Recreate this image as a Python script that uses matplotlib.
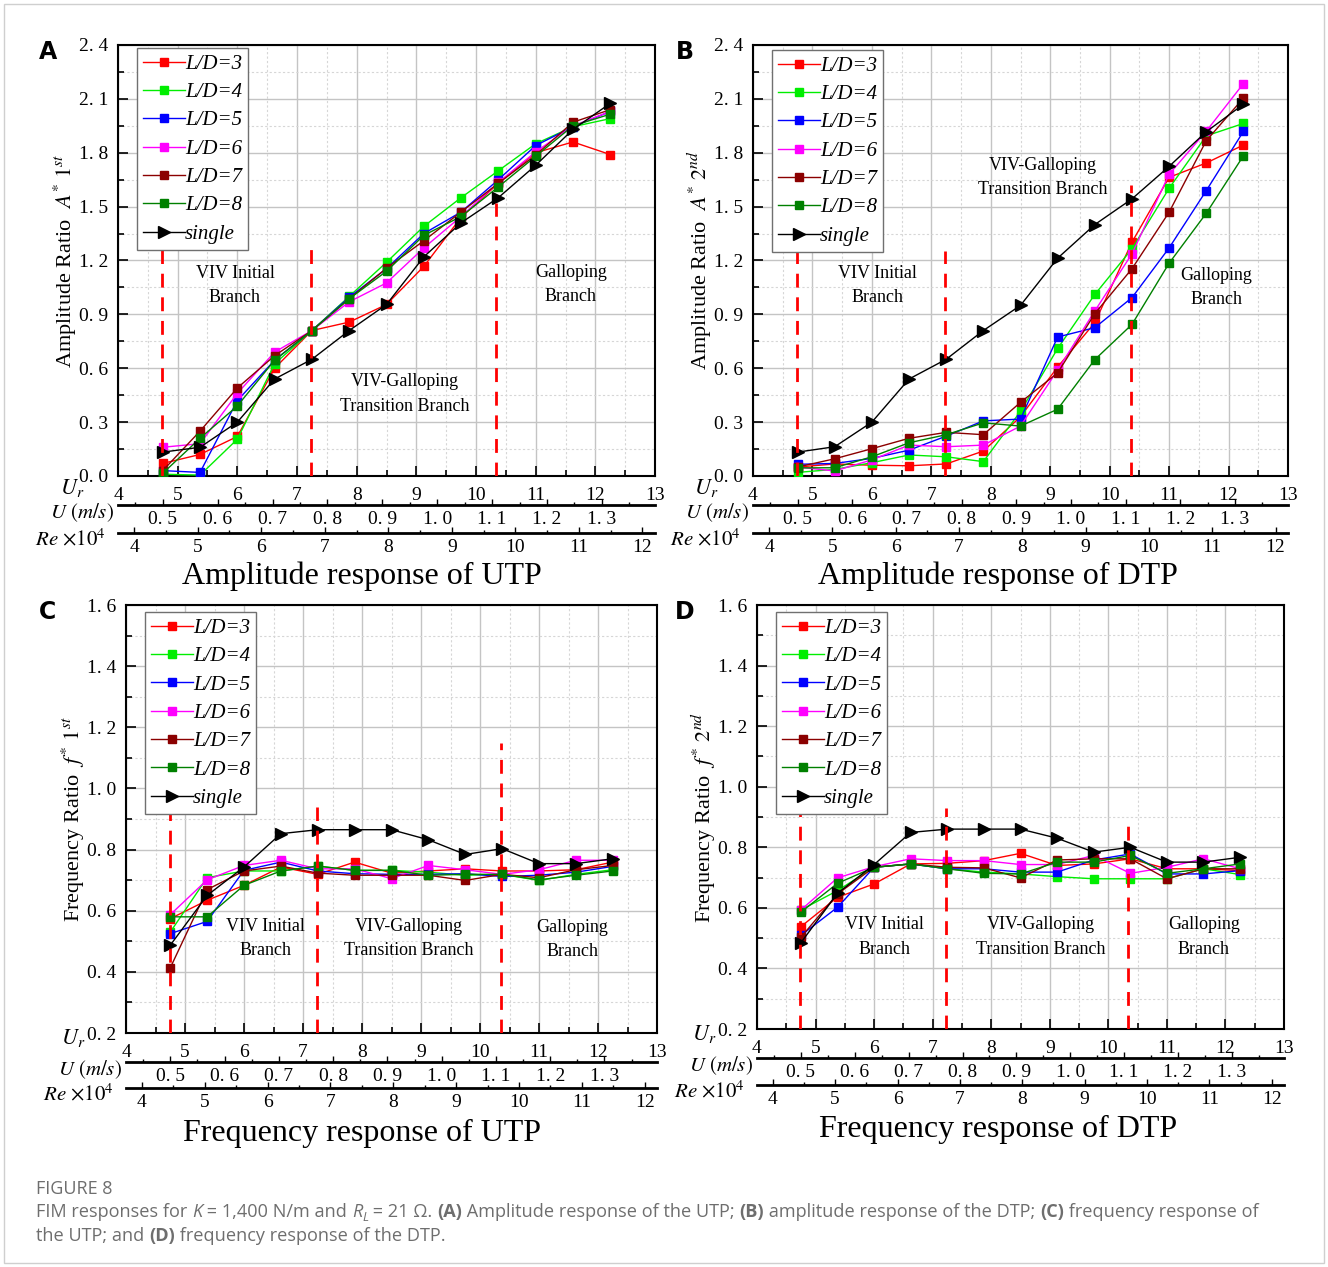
import matplotlib
matplotlib.use("Agg")
import matplotlib.pyplot as plt
from matplotlib.patches import Rectangle
from matplotlib.ticker import MultipleLocator, FixedLocator, FixedFormatter

plt.rcParams['font.family'] = 'Liberation Serif'
plt.rcParams['mathtext.fontset'] = 'stix'

# reduced velocity of the 13 test points
ur = [4.75, 5.375, 6.0, 6.625, 7.25, 7.875, 8.5, 9.125, 9.75, 10.375, 11.0, 11.625, 12.25]

# (A) amplitude, UTP
a_ld3 = [0.07, 0.12, 0.22, 0.60, 0.81, 0.857, 0.955, 1.167, 1.44, 1.63, 1.80, 1.86, 1.79]
a_ld4 = [0.01, 0.005, 0.205, 0.625, 0.81, 1.00, 1.19, 1.39, 1.55, 1.70, 1.85, 1.945, 1.99]
a_ld5 = [0.03, 0.02, 0.42, 0.645, 0.81, 0.995, 1.155, 1.35, 1.47, 1.65, 1.84, 1.945, 2.03]
a_ld6 = [0.16, 0.18, 0.46, 0.69, 0.81, 0.97, 1.075, 1.27, 1.445, 1.635, 1.805, 1.95, 2.03]
a_ld7 = [0.03, 0.25, 0.49, 0.67, 0.81, 0.987, 1.157, 1.31, 1.47, 1.63, 1.787, 1.97, 2.04]
a_ld8 = [0.015, 0.21, 0.39, 0.645, 0.81, 0.987, 1.14, 1.34, 1.445, 1.61, 1.78, 1.95, 2.015]
a_single = [0.133, 0.16, 0.30, 0.54, 0.65, 0.81, 0.955, 1.22, 1.41, 1.55, 1.73, 1.93, 2.075]

# (B) amplitude, DTP
b_ld3 = [0.05, 0.067, 0.06, 0.057, 0.067, 0.139, 0.33, 0.607, 0.854, 1.302, 1.663, 1.743, 1.843]
b_ld4 = [0.02, 0.037, 0.074, 0.117, 0.107, 0.08, 0.36, 0.71, 1.011, 1.265, 1.602, 1.894, 1.963]
b_ld5 = [0.065, 0.07, 0.098, 0.144, 0.222, 0.307, 0.317, 0.774, 0.826, 0.993, 1.27, 1.589, 1.919]
b_ld6 = [0.05, 0.028, 0.09, 0.172, 0.163, 0.172, 0.278, 0.59, 0.919, 1.237, 1.68, 1.92, 2.185]
b_ld7 = [0.05, 0.096, 0.152, 0.21, 0.243, 0.23, 0.41, 0.574, 0.904, 1.154, 1.469, 1.867, 2.104]
b_ld8 = [0.045, 0.046, 0.107, 0.185, 0.23, 0.296, 0.278, 0.372, 0.648, 0.844, 1.185, 1.463, 1.783]
b_single = [0.133, 0.163, 0.30, 0.54, 0.65, 0.81, 0.95, 1.213, 1.40, 1.543, 1.724, 1.917, 2.07]

# (C) frequency, UTP
c_ld3 = [0.574, 0.634, 0.683, 0.743, 0.719, 0.759, 0.723, 0.73, 0.737, 0.73, 0.73, 0.734, 0.759]
c_ld4 = [0.53, 0.708, 0.73, 0.73, 0.746, 0.732, 0.732, 0.726, 0.716, 0.719, 0.699, 0.719, 0.734]
c_ld5 = [0.525, 0.565, 0.732, 0.759, 0.73, 0.721, 0.719, 0.719, 0.721, 0.712, 0.716, 0.726, 0.745]
c_ld6 = [0.587, 0.701, 0.748, 0.765, 0.737, 0.737, 0.705, 0.748, 0.734, 0.719, 0.734, 0.765, 0.765]
c_ld7 = [0.413, 0.669, 0.73, 0.746, 0.723, 0.716, 0.716, 0.716, 0.699, 0.719, 0.708, 0.734, 0.748]
c_ld8 = [0.58, 0.58, 0.683, 0.73, 0.746, 0.732, 0.732, 0.716, 0.719, 0.719, 0.701, 0.716, 0.73]
c_single = [0.487, 0.65, 0.743, 0.852, 0.865, 0.865, 0.865, 0.832, 0.784, 0.803, 0.754, 0.754, 0.77]

# (D) frequency, DTP
d_ld3 = [0.538, 0.635, 0.679, 0.745, 0.747, 0.756, 0.780, 0.740, 0.745, 0.762, 0.729, 0.729, 0.723]
d_ld4 = [0.593, 0.657, 0.734, 0.745, 0.729, 0.718, 0.712, 0.703, 0.696, 0.696, 0.696, 0.729, 0.710]
d_ld5 = [0.509, 0.602, 0.734, 0.745, 0.729, 0.729, 0.718, 0.718, 0.758, 0.778, 0.712, 0.712, 0.723]
d_ld6 = [0.593, 0.699, 0.736, 0.762, 0.756, 0.756, 0.743, 0.743, 0.773, 0.714, 0.734, 0.762, 0.729]
d_ld7 = [0.503, 0.646, 0.734, 0.745, 0.734, 0.732, 0.699, 0.758, 0.762, 0.762, 0.696, 0.729, 0.729]
d_ld8 = [0.586, 0.681, 0.734, 0.745, 0.729, 0.714, 0.712, 0.751, 0.751, 0.773, 0.714, 0.729, 0.745]
d_single = [0.485, 0.648, 0.743, 0.849, 0.860, 0.860, 0.860, 0.830, 0.784, 0.800, 0.751, 0.751, 0.767]

labels = ['L/D=3', 'L/D=4', 'L/D=5', 'L/D=6', 'L/D=7', 'L/D=8', 'single']
colors = ['#ff0000', '#00ee00', '#0000ff', '#ff00ff', '#8b0000', '#008000', '#000000']

# branch borders (Ur, top of the dashed line)
a_bounds = [(4.74, 1.26), (7.23, 1.27), (10.34, 1.52)]
b_bounds = [(4.74, 1.255), (7.23, 1.255), (10.36, 1.62)]
c_bounds = [(4.74, 0.93), (7.24, 0.94), (10.36, 1.15)]
d_bounds = [(4.73, 0.92), (7.22, 0.93), (10.34, 0.88)]

u_ticks = [0.5, 0.6, 0.7, 0.8, 0.9, 1.0, 1.1, 1.2, 1.3]
re_ticks = [4, 5, 6, 7, 8, 9, 10, 11, 12]

W, H = 1328, 1267
fig = plt.figure(figsize=(W / 100, H / 100), dpi=100)


def ur2u(x):
    return 0.5 + (x - 4.75) / 9.2


def u2ur(x):
    return 4.75 + (x - 0.5) * 9.2


def ur2re(x):
    return 4 + (x - 4.27) / 1.065


def re2ur(x):
    return 4.27 + (x - 4) * 1.065


def fmt(v):
    return '{:.1f}'.format(v).replace('.', '. ')


panels = [
    dict(box=(118, 45, 655, 476), ylim=(0, 2.4), step=0.3,
         data=[a_ld3, a_ld4, a_ld5, a_ld6, a_ld7, a_ld8, a_single], bounds=a_bounds,
         notes=[(5.96, 1.06, 'VIV Initial\nBranch'), (8.81, 0.457, 'VIV-Galloping\nTransition Branch'),
                (11.59, 1.066, 'Galloping\nBranch')],
         uline=505, reline=533, title='Amplitude response of UTP', tx=362,
         ylabel=r'Amplitude Ratio  $A^{*}\ 1^{st}$', letter='A', leg=(137, 48), urlab=(72, 488)),
    dict(box=(753, 45, 1288, 476), ylim=(0, 2.4), step=0.3,
         data=[b_ld3, b_ld4, b_ld5, b_ld6, b_ld7, b_ld8, b_single], bounds=b_bounds,
         notes=[(6.10, 1.063, 'VIV Initial\nBranch'), (8.87, 1.66, 'VIV-Galloping\nTransition Branch'),
                (11.79, 1.052, 'Galloping\nBranch')],
         uline=505, reline=533, title='Amplitude response of DTP', tx=998,
         ylabel=r'Amplitude Ratio  $A^{*}\ 2^{nd}$', letter='B', leg=(772, 50), urlab=(706, 488)),
    dict(box=(126, 605, 657, 1033), ylim=(0.2, 1.6), step=0.2,
         data=[c_ld3, c_ld4, c_ld5, c_ld6, c_ld7, c_ld8, c_single], bounds=c_bounds,
         notes=[(6.37, 0.51, 'VIV Initial\nBranch'), (8.80, 0.51, 'VIV-Galloping\nTransition Branch'),
                (11.56, 0.506, 'Galloping\nBranch')],
         uline=1062, reline=1088, title='Frequency response of UTP', tx=362,
         ylabel=r'Frequency Ratio  $f^{*}\ 1^{st}$', letter='C', leg=(145, 612), urlab=(73, 1038)),
    dict(box=(757, 605, 1284, 1029), ylim=(0.2, 1.6), step=0.2,
         data=[d_ld3, d_ld4, d_ld5, d_ld6, d_ld7, d_ld8, d_single], bounds=d_bounds,
         notes=[(6.17, 0.504, 'VIV Initial\nBranch'), (8.85, 0.504, 'VIV-Galloping\nTransition Branch'),
                (11.63, 0.504, 'Galloping\nBranch')],
         uline=1058, reline=1085, title='Frequency response of DTP', tx=998,
         ylabel=r'Frequency Ratio  $f^{*}\ 2^{nd}$', letter='D', leg=(776, 612), urlab=(704, 1034)),
]

for p in panels:
    l, t, r, b = p['box']
    ax = fig.add_axes([l / W, 1 - b / H, (r - l) / W, (b - t) / H])
    ax.set_xlim(4, 13)
    ax.set_ylim(*p['ylim'])
    ax.set_axisbelow(True)

    for i, ys in enumerate(p['data']):
        single = labels[i] == 'single'
        ax.plot(ur, ys, color=colors[i], lw=1.0, marker='>' if single else 's',
                ms=8 if single else 5.5, label=labels[i], zorder=3)

    ymin = p['ylim'][0]
    for xb, top in p['bounds']:
        ax.plot([xb, xb], [ymin, top], color='#ff0000', lw=2, ls=(0, (5, 3.5)), zorder=4)

    for x, y, s in p['notes']:
        ax.text(x, y, s, ha='center', va='center', fontsize=13, linespacing=1.55, zorder=5)

    # ticks and grid
    ax.xaxis.set_major_locator(MultipleLocator(1))
    ax.xaxis.set_minor_locator(MultipleLocator(0.5))
    yt = [ymin + k * p['step'] for k in range(9) if ymin + k * p['step'] <= p['ylim'][1] + 1e-9]
    ax.yaxis.set_major_locator(FixedLocator(yt))
    ax.yaxis.set_major_formatter(FixedFormatter([fmt(v) for v in yt]))
    ax.yaxis.set_minor_locator(MultipleLocator(p['step'] / 2))
    ax.tick_params(which='both', direction='in', labelsize=14, width=1.2)
    ax.tick_params(which='major', length=7)
    ax.tick_params(which='minor', length=4)
    ax.tick_params(axis='x', pad=8)
    ax.tick_params(axis='y', pad=7)
    ax.grid(which='major', color='#c4c4c4', lw=1.0, ls='-')
    ax.grid(which='minor', color='#d6d6d6', lw=0.8, ls=(0, (2, 2)))
    for s in ax.spines.values():
        s.set_linewidth(1.5)

    hgt = b - t
    sec_u = ax.secondary_xaxis(-(p['uline'] - b) / hgt, functions=(ur2u, u2ur))
    sec_u.set_xticks(u_ticks)
    sec_u.set_xticklabels([fmt(v) for v in u_ticks])
    sec_u.xaxis.set_minor_locator(MultipleLocator(0.05))
    sec_re = ax.secondary_xaxis(-(p['reline'] - b) / hgt, functions=(ur2re, re2ur))
    sec_re.set_xticks(re_ticks)
    sec_re.xaxis.set_minor_locator(MultipleLocator(0.5))
    for sec in (sec_u, sec_re):
        sec.spines['bottom'].set_linewidth(2)
        sec.tick_params(which='both', direction='in', labelsize=14, width=1.0, pad=4)
        sec.tick_params(which='major', length=4)
        sec.tick_params(which='minor', length=2)

    lx, ly = p['leg']
    ax.legend(loc='upper left', bbox_to_anchor=((lx - l) / (r - l), (b - ly) / hgt), borderaxespad=0,
              prop={'family': 'Liberation Serif', 'style': 'italic', 'size': 15},
              handlelength=2.0, handletextpad=0.0, labelspacing=0.42, borderpad=0.3,
              fancybox=False, edgecolor='#707070', framealpha=1, numpoints=1)

    # text around the panel
    fig.text(p['tx'] / W, 1 - (b + 100) / H, p['title'], ha='center', va='center', fontsize=23)
    fig.text((l - 53) / W, 1 - (t + b) / 2 / H, p['ylabel'], rotation=90, ha='center', va='center',
             fontsize=16)
    fig.text(p['urlab'][0] / W, 1 - p['urlab'][1] / H, r'$U_r$', ha='center', va='center', fontsize=16)
    fig.text((l - 4) / W, 1 - (p['uline'] + 8) / H, r'$U\ (m/s)$', ha='right', va='center', fontsize=15)
    fig.text((l - 12) / W, 1 - (p['reline'] + 7) / H, r'$Re\ {\times}10^{4}$', ha='right', va='center',
             fontsize=15)
    fig.text((48 if l < 400 else 685) / W, 1 - (t + 7) / H, p['letter'], family='DejaVu Sans',
             fontweight='bold', fontsize=17, ha='center', va='center')

# caption
renderer = fig.canvas.get_renderer()
grey = '#6e6e6e'


def rich(x, y, pieces, size=13.05):
    for txt, style in pieces:
        kw = dict(family='Open Sans', fontsize=size, color=grey, va='baseline')
        dy = 0
        if style == 'b':
            kw['fontweight'] = 'bold'
        if style in ('i', 'sub'):
            kw['style'] = 'italic'
        if style == 'sub':
            kw['fontsize'] = size * 0.7
            dy = 4
        tx = fig.text(x / W, 1 - (y + dy) / H, txt, **kw)
        x += tx.get_window_extent(renderer=renderer).width


rich(36, 1194, [('FIGURE 8', 'n')], size=13)
rich(36, 1217, [('FIM responses for ', 'n'), ('K', 'i'), (' = 1,400 N/m and ', 'n'), ('R', 'i'), ('L', 'sub'),
                (' = 21 \u03a9. ', 'n'), ('(A)', 'b'), (' Amplitude response of the UTP; ', 'n'), ('(B)', 'b'),
                (' amplitude response of the DTP; ', 'n'), ('(C)', 'b'), (' frequency response of', 'n')])
rich(36, 1241, [('the UTP; and ', 'n'), ('(D)', 'b'), (' frequency response of the DTP.', 'n')])

fig.patches.append(Rectangle((4 / W, 4 / H), 1320 / W, 1259 / H, transform=fig.transFigure, fill=False,
                             edgecolor='#cfcfcf', lw=1))

fig.savefig('out.png', dpi=100)
